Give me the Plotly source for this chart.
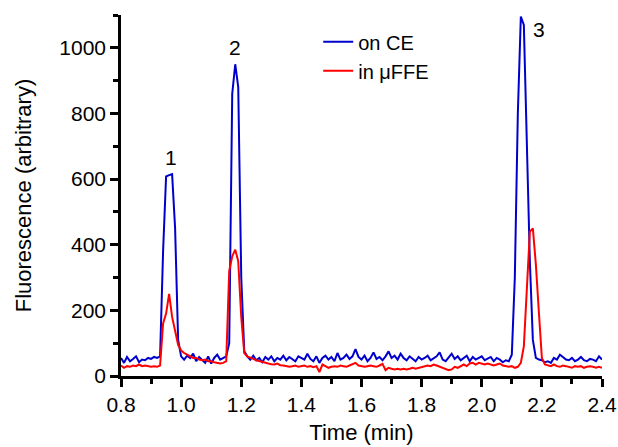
import numpy as np
import plotly.graph_objects as go

time_min = [round(0.80 + 0.01 * i, 2) for i in range(161)]

on_ce = [
    55, 40, 58, 45, 52, 60, 42, 50, 48, 55,   # 0.80-0.89
    52, 58, 55, 60, 380, 608, 612, 615, 450, 110,  # 0.90-0.99
    60, 50, 62, 55, 68, 45, 58, 48, 40, 60,   # 1.00-1.09
    38, 55, 65, 50, 55, 60, 100, 860, 950, 880,  # 1.10-1.19
    300, 75, 60, 50, 62, 48, 55, 42, 58, 50,  # 1.20-1.29
    60, 45, 55, 50, 62, 48, 58, 52, 45, 60,   # 1.30-1.39
    55, 50, 68, 52, 45, 60, 40, 55, 62, 50,   # 1.40-1.49
    58, 45, 70, 50, 55, 65, 52, 60, 82, 58,   # 1.50-1.59
    50, 62, 45, 55, 72, 52, 58, 48, 60, 75,   # 1.60-1.69
    55, 62, 50, 68, 55, 48, 60, 52, 45, 58,   # 1.70-1.79
    50, 55, 62, 48, 55, 60, 72, 50, 45, 58,   # 1.80-1.89
    68, 52, 60, 48, 55, 62, 45, 58, 50, 55,   # 1.90-1.99
    60, 48, 52, 58, 45, 55, 50, 42, 48, 45,   # 2.00-2.09
    65, 300, 800, 1095, 1070, 740, 350, 110, 55, 50,  # 2.10-2.19
    48, 42, 45, 40, 55, 50, 65, 58, 50, 48,   # 2.20-2.29
    55, 45, 50, 58, 48, 45, 52, 50, 45, 60,   # 2.30-2.39
    50,                                       # 2.40
]

in_uffe = [
    32, 25, 30, 28, 32, 30, 35, 30, 32, 30,   # 0.80-0.89
    28, 30, 28, 32, 160, 190, 250, 180, 134, 95,  # 0.90-0.99
    78, 70, 65, 60, 55, 55, 50, 48, 50, 45,   # 1.00-1.09
    45, 42, 40, 38, 40, 45, 320, 365, 385, 350,  # 1.10-1.19
    180, 70, 60, 55, 52, 48, 45, 42, 40, 38,  # 1.20-1.29
    36, 35, 38, 33, 32, 30, 28, 30, 32, 28,   # 1.30-1.39
    30, 32, 28, 30, 27, 30, 12, 35, 30, 25,   # 1.40-1.49
    28, 30, 28, 32, 30, 28, 32, 35, 40, 32,   # 1.50-1.59
    30, 28, 30, 32, 30, 28, 32, 37, 18, 25,   # 1.60-1.69
    22, 20, 22, 20, 22, 20, 22, 25, 22, 25,   # 1.70-1.79
    28, 30, 32, 30, 35, 32, 28, 25, 20, 18,   # 1.80-1.89
    20, 28, 25, 30, 35, 30, 38, 40, 35, 40,   # 1.90-1.99
    38, 35, 38, 35, 32, 35, 38, 32, 30, 28,   # 2.00-2.09
    30, 25, 28, 40, 90, 260, 440, 450, 340, 195,  # 2.10-2.19
    55, 35, 32, 30, 35, 30, 28, 32, 30, 28,   # 2.20-2.29
    25, 30, 28, 30, 25, 28, 30, 28, 25, 28,   # 2.30-2.39
    25,                                       # 2.40
]

peak_labels = ["1", "2", "3"]
peak_label_x = [0.965, 1.178, 2.19]
peak_label_y = [665, 1000, 1055]

FONT = "Liberation Sans, Arial, sans-serif"

fig = go.Figure()
fig.add_trace(go.Scatter(x=time_min, y=on_ce, mode="lines", name="on CE",
                         line=dict(color="#0000CC", width=2)))
fig.add_trace(go.Scatter(x=time_min, y=in_uffe, mode="lines", name="in \u03bcFFE",
                         line=dict(color="#FF0000", width=2)))

for t, xx, yy in zip(peak_labels, peak_label_x, peak_label_y):
    fig.add_annotation(x=xx, y=yy, text=t, showarrow=False,
                       font=dict(size=21, color="black", family=FONT))

axis_common = dict(showline=True, linecolor="black", linewidth=2.5,
                   ticks="outside", ticklen=8, tickwidth=2.5, tickcolor="black",
                   showgrid=False, zeroline=False, automargin=False,
                   tickfont=dict(size=21, color="black", family=FONT))

fig.update_xaxes(range=[0.8, 2.4], dtick=0.2, tick0=0.8, tickformat=".1f",
                 minor=dict(ticks="outside", ticklen=5, dtick=0.1, tickwidth=2.5,
                            tickcolor="black"),
                 title=dict(text="Time (min)", font=dict(size=22, color="black", family=FONT),
                            standoff=10),
                 **axis_common)
fig.update_yaxes(range=[0, 1100], dtick=200, tick0=0,
                 minor=dict(ticks="outside", ticklen=5, dtick=100, tickwidth=2.5,
                            tickcolor="black"),
                 title=dict(text="Fluorescence (arbitrary)",
                            font=dict(size=22, color="black", family=FONT), standoff=22),
                 **axis_common)

fig.update_layout(
    width=618, height=447,
    margin=dict(l=121, r=16, t=15, b=71),
    paper_bgcolor="white", plot_bgcolor="white",
    font=dict(family=FONT, color="black"),
    legend=dict(x=0.41, y=0.98, xanchor="left", yanchor="top",
                bgcolor="rgba(0,0,0,0)", font=dict(size=20, family=FONT, color="black")),
)

fig.write_html("out.html")
